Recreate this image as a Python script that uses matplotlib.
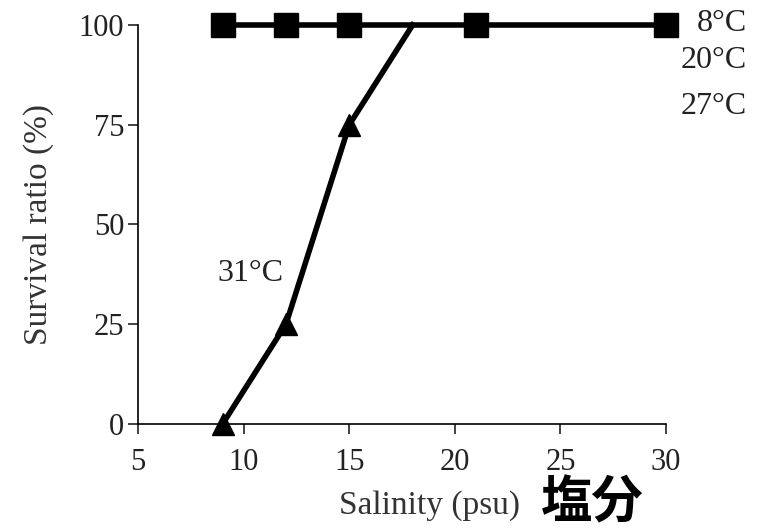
import matplotlib.pyplot as plt

# data
salinity_sq = [9, 12, 15, 21, 30]
survival_sq = [100, 100, 100, 100, 100]   # 8, 20, 27 °C (overlapping)
salinity_tri = [9, 12, 15, 18]
survival_tri = [0, 25, 75, 100]           # 31 °C
xticks = [5, 10, 15, 20, 25, 30]
yticks = [0, 25, 50, 75, 100]
sq_labels = ["8°C", "20°C", "27°C"]

plt.rcParams['font.family'] = ['Liberation Serif', 'DejaVu Serif']

fig = plt.figure(figsize=(7.63, 5.31), dpi=100)
ax = fig.add_axes([0.181, 0.2015, 0.692, 0.7515])

ax.plot(salinity_tri, survival_tri, '-', color='black', linewidth=4,
        marker='^', markersize=16, markevery=[0, 1, 2], clip_on=False, zorder=3)
ax.plot(salinity_sq, survival_sq, '-', color='black', linewidth=4,
        marker='s', markersize=17, clip_on=False, zorder=4)

ax.set_xlim(5, 30)
ax.set_ylim(0, 100)
ax.set_xticks(xticks)
ax.set_yticks(yticks)
ax.spines['top'].set_visible(False)
ax.spines['right'].set_visible(False)
ax.spines['left'].set_linewidth(1.2)
ax.spines['bottom'].set_linewidth(1.2)
ax.tick_params(direction='out', length=7, width=1.2, labelsize=22, colors='#222222')
ax.tick_params(axis='x', pad=10)
ax.tick_params(axis='y', pad=3)

ax.set_xlabel('Salinity (psu)', fontsize=24, color='#333333')
ax.set_ylabel('Survival ratio (%)', fontsize=24, color='#333333')
ax.xaxis.set_label_coords(0.551, -0.165)
ax.yaxis.set_label_coords(-0.16, 0.5)

# temperature labels at right, offsets in pixels from the top-right corner
label_dy = [1, -36, -82]
for lab, dy in zip(sq_labels, label_dy):
    ax.annotate(lab, xy=(1.0, 1.0), xycoords='axes fraction',
                xytext=(81, dy), textcoords='offset pixels',
                ha='right', va='center', fontsize=23, color='#222222',
                annotation_clip=False)

ax.text(10.3, 37.8, "31°C", ha='center', va='center', fontsize=23, color='#222222')

fig.text(0.776, 0.052, "塩分", fontsize=37, fontweight='bold',
         family=['Noto Sans CJK JP', 'DejaVu Sans'], ha='center', va='center')

fig.savefig('out.png', dpi=100)
